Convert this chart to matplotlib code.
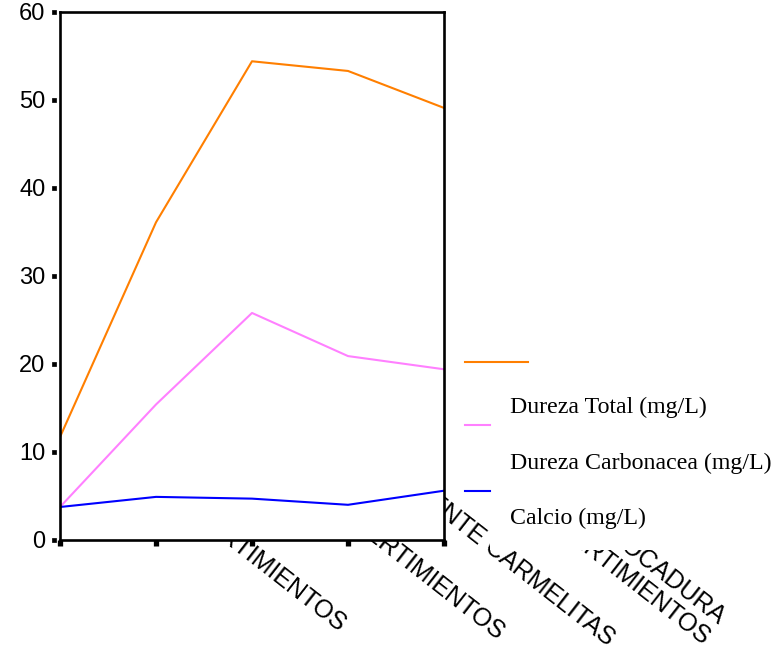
import matplotlib
matplotlib.use("Agg")
import matplotlib.pyplot as plt
from matplotlib.lines import Line2D
from matplotlib.patches import Rectangle
from matplotlib.path import Path
from matplotlib.transforms import ScaledTranslation

# Puntos de muestreo y parametros de dureza
sitios = ["NACIMIENTO",
          "ANTES DE VERTIMIENTOS",
          "DESPUES DE VERTIMIENTOS",
          "PUENTE CARMELITAS",
          "DESEMBOCADURA\nDESP. VERTIMIENTOS"]
dureza_total = [11.7, 36.1, 54.4, 53.3, 49.1]
dureza_carbonacea = [3.75, 15.4, 25.8, 20.9, 19.4]
calcio = [3.75, 4.9, 4.7, 4.0, 5.6]
series = ["Dureza Total (mg/L)", "Dureza Carbonacea (mg/L)", "Calcio (mg/L)"]
colores = ["#ff7f00", "#ff80ff", "#0000ff"]
valores_y = [0, 10, 20, 30, 40, 50, 60]

W, H = 778, 660
fig = plt.figure(figsize=(W / 100, H / 100), dpi=100)
ax = fig.add_axes([60 / W, 1 - 540 / H, 384 / W, 528 / H])

x = list(range(len(sitios)))
for datos, color in zip([dureza_total, dureza_carbonacea, calcio], colores):
    ax.plot(x, datos, color=color, lw=1.5)

ax.set_xlim(0, len(sitios) - 1)
ax.set_ylim(0, 60)
for s in ax.spines.values():
    s.set_linewidth(1.9)

# eje y: marcas cuadradas separadas del eje
ax.set_yticks(valores_y)
ax.set_yticklabels([str(v) for v in valores_y], fontsize=17, family="Liberation Sans")
ax.tick_params(axis="y", pad=7)
marca = Path([(-8, -2.5), (-4, -2.5), (-4, 2.5), (-8, 2.5), (-8, -2.5)],
             [Path.MOVETO, Path.LINETO, Path.LINETO, Path.LINETO, Path.CLOSEPOLY])
for t in ax.yaxis.get_major_ticks():
    t.tick1line.set_marker(marca)
    t.tick1line.set_markersize(11.5)
    t.tick1line.set_markerfacecolor("black")
    t.tick1line.set_markeredgecolor("black")
    t.tick1line.set_markeredgewidth(0.5)

# eje x: marcas cuadradas, etiquetas aparte
ax.set_xticks(x)
ax.tick_params(axis="x", direction="out", length=4, width=3.8, labelbottom=False)

# etiquetas giradas del eje x (por debajo del area del grafico)
desplaz = [(150, -30), (187, 86), (249, 95), (264, 101), (270, 90)]
for xi, nombre, (dx, dy) in zip(x, sitios, desplaz):
    tr = ax.get_xaxis_transform() + ScaledTranslation(dx / 100, -dy / 100, fig.dpi_scale_trans)
    fig.text(xi, 0, nombre, transform=tr, rotation=-38, rotation_mode="anchor",
             ha="right", va="center", multialignment="right", linespacing=1.0,
             fontsize=18, family="Liberation Sans", zorder=-1)

# leyenda
fig.add_artist(Rectangle((490 / W, 1 - 550 / H), (W - 490) / W, 167 / H,
                         transform=fig.transFigure, facecolor="white",
                         edgecolor="none", zorder=-0.5))
claves = [(528, 362), (490, 425), (490, 491)]
textos_y = [407, 463, 518]
for nombre, color, (x1, yk), yt in zip(series, colores, claves, textos_y):
    fig.add_artist(Line2D([465 / W, x1 / W], [1 - yk / H] * 2,
                          transform=fig.transFigure, color=color, lw=1.5))
    fig.text(510 / W, 1 - yt / H, nombre, va="center", fontsize=17.2,
             family="Liberation Serif")

fig.savefig("out.png", dpi=100)
